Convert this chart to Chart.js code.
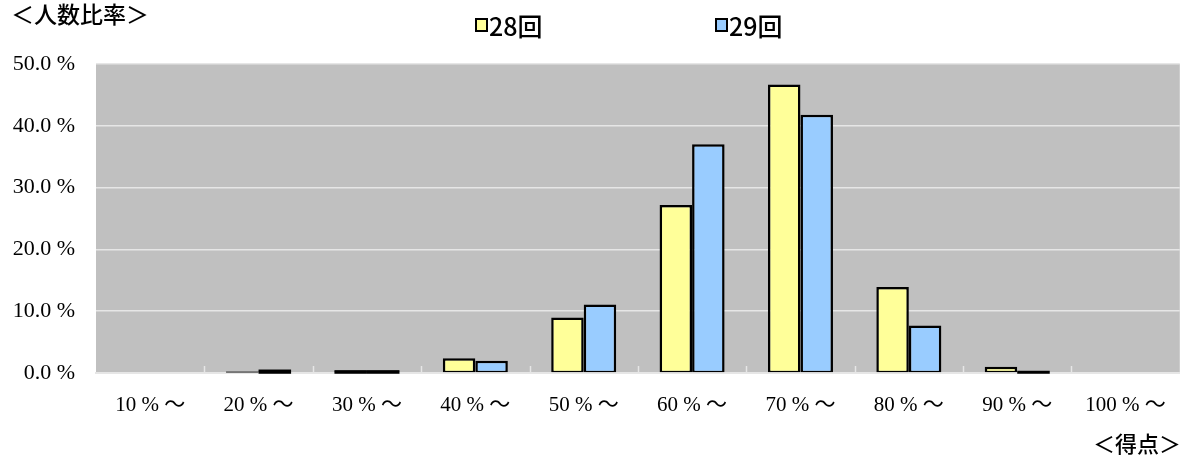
<!DOCTYPE html>
<html>
<head>
<meta charset="utf-8">
<script src="https://cdn.jsdelivr.net/npm/chart.js@4"></script>
<style>
  html, body { margin: 0; padding: 0; background: #ffffff; }
  #wrap { position: relative; width: 1186px; height: 455px; overflow: hidden; }
  canvas { position: absolute; left: 0; top: 0; }
  .lbl { position: absolute; font-family: "Noto Sans CJK JP", sans-serif; font-weight: 500; color: #000; white-space: nowrap; line-height: 1; }
  .leg { position: absolute; font-family: "Noto Sans CJK JP", sans-serif; font-weight: 500; font-size: 25px; color: #000; white-space: nowrap; line-height: 1; }
  .box { position: absolute; width: 9px; height: 10px; border: 2px solid #000; }
</style>
</head>
<body>
<div id="wrap">
  <canvas id="c" width="1186" height="455"></canvas>
  <div class="lbl" style="left:11px; top:2px; font-size:23px;">＜人数比率＞</div>
  <div class="lbl" style="left:1093px; top:431px; font-size:22px;">＜得点＞</div>
  <div class="box" style="left:475px; top:18px; background:#FFFF99;"></div>
  <div class="leg" style="left:489px; top:13px;">28回</div>
  <div class="box" style="left:715px; top:18px; background:#99CCFF;"></div>
  <div class="leg" style="left:729px; top:13px;">29回</div>
</div>
<script>
const categories = ["10 % ～", "20 % ～", "30 % ～", "40 % ～", "50 % ～", "60 % ～", "70 % ～", "80 % ～", "90 % ～", "100 % ～"];
const seriesNames = ["28回", "29回"];
const values28 = [0.0, 0.1, 0.3, 2.4, 9.0, 27.2, 46.7, 13.9, 1.0, 0.0];
const values29 = [0.0, 0.4, 0.3, 2.0, 11.1, 37.0, 41.8, 7.7, 0.2, 0.0];
const yTicks = [0, 10, 20, 30, 40, 50];

const plotBg = {
  id: 'plotBg',
  beforeDraw(chart) {
    const a = chart.chartArea, ctx = chart.ctx;
    ctx.save();
    ctx.fillStyle = '#C0C0C0';
    ctx.fillRect(a.left, a.top, a.right - a.left, a.bottom - a.top);
    ctx.restore();
  },
  afterDatasetsDraw(chart) {
    const a = chart.chartArea, ctx = chart.ctx, xs = chart.scales.x;
    ctx.save();
    ctx.strokeStyle = '#E6E6E6';
    ctx.lineWidth = 1.5;
    for (let i = 1; i < categories.length; i++) {
      const x = Math.round((xs.getPixelForValue(i - 1) + xs.getPixelForValue(i)) / 2) + 0.5;
      ctx.beginPath();
      ctx.moveTo(x, a.bottom);
      ctx.lineTo(x, a.bottom - 7);
      ctx.stroke();
    }
    // very small bars: their outline collapses into a dark line at the base
    chart.data.datasets.forEach((ds, di) => {
      const meta = chart.getDatasetMeta(di);
      meta.data.forEach((el, i) => {
        const v = ds.data[i];
        if (!v) return;
        const p = el.getProps(['x', 'y', 'base', 'width'], true);
        const h = p.base - p.y;
        if (h >= 5) return;
        ctx.fillStyle = v < 0.2 ? '#555555' : '#000000';
        ctx.fillRect(p.x - p.width / 2, p.y - 1, p.width, h + (v < 0.2 ? 1.5 : 2.5));
      });
    });
    ctx.restore();
  }
};

new Chart(document.getElementById('c'), {
  type: 'bar',
  data: {
    labels: categories,
    datasets: [
      { label: seriesNames[0], data: values28, backgroundColor: '#FFFF99', borderColor: '#000000', borderWidth: { top: 2.5, left: 2.5, right: 2.5, bottom: 1.5 }, borderSkipped: false },
      { label: seriesNames[1], data: values29, backgroundColor: '#99CCFF', borderColor: '#000000', borderWidth: { top: 2.5, left: 2.5, right: 2.5, bottom: 1.5 }, borderSkipped: false }
    ]
  },
  options: {
    responsive: false,
    animation: false,
    devicePixelRatio: 1,
    layout: { padding: { top: 64, right: 3, bottom: 0, left: 0 } },
    plugins: { legend: { display: false }, tooltip: { enabled: false }, title: { display: false } },
    datasets: { bar: { categoryPercentage: 0.6, barPercentage: 1.0 } },
    scales: {
      x: {
        grid: { display: false, drawTicks: false },
        border: { display: true, color: '#E6E6E6', width: 2 },
        ticks: { color: '#000', font: { family: '"Liberation Serif", "Noto Sans CJK JP", serif', size: 21 }, padding: 20, maxRotation: 0, autoSkip: false },
        afterFit(s) { s.height = 82; }
      },
      y: {
        min: 0, max: 50,
        afterBuildTicks(s) { s.ticks = yTicks.map(v => ({ value: v })); },
        grid: { color: '#E6E6E6', lineWidth: 1.5, drawTicks: false },
        border: { display: false },
        ticks: { color: '#000', font: { family: '"Liberation Serif", serif', size: 22 }, padding: 21, callback: v => v.toFixed(1) + ' %' },
        afterFit(s) { s.width = 96; }
      }
    }
  },
  plugins: [plotBg]
});
</script>
</body>
</html>
